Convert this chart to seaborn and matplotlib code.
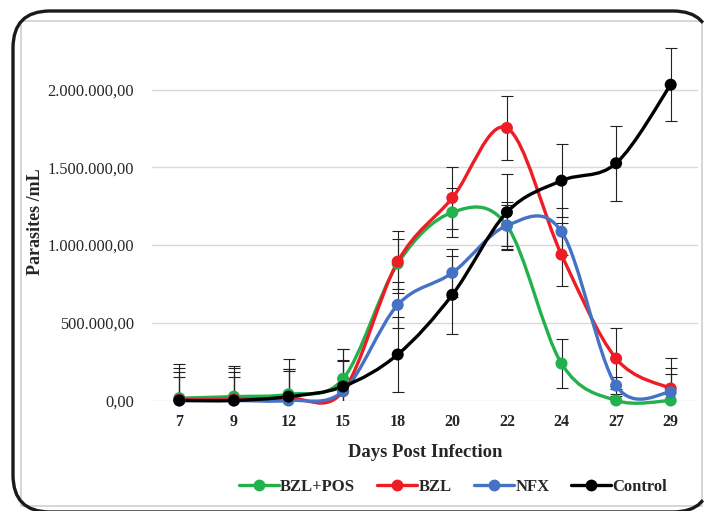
import numpy as np
import pandas as pd
import matplotlib
matplotlib.use("Agg")
import matplotlib.pyplot as plt
import seaborn as sns
from matplotlib.path import Path
from matplotlib.patches import PathPatch, FancyBboxPatch, Rectangle
from matplotlib.lines import Line2D
from matplotlib.ticker import FuncFormatter
from matplotlib.transforms import IdentityTransform

# ---------------------------------------------------------
# Data
# ---------------------------------------------------------
days = ["7", "9", "12", "15", "18", "20", "22", "24", "27", "29"]
series_names = ["BZL+POS", "BZL", "NFX", "Control"]
colors = ["#22b14c", "#ee1c24", "#4472c4", "#000000"]

bzl_pos = [15000, 25000, 40000, 140000, 880000, 1210000, 1125000, 238000, 0, 0]
bzl = [5000, 8000, 15000, 60000, 893000, 1303000, 1753000, 938000, 270000, 77000]
nfx = [0, 0, 0, 60000, 615000, 821000, 1125000, 1086000, 96000, 53000]
control = [0, 0, 25000, 90000, 296000, 680000, 1211000, 1414000, 1526000, 2031000]

bzl_pos_err = [220000, 200000, 150000, 190000, 160000, 157000, 150000, 155000, 30000, 171000]
bzl_err = [203000, 200000, 185000, 200000, 200000, 200000, 208000, 203000, 197000, 195000]
nfx_err = [182000, 182000, 200000, 197000, 146000, 155000, 130000, 150000, 55000, 155000]
control_err = [150000, 150000, 240000, 240000, 243000, 250000, 245000, 236000, 240000, 235000]

values = [bzl_pos, bzl, nfx, control]
errors = [bzl_pos_err, bzl_err, nfx_err, control_err]

sns.set_theme(style="white")
plt.rcParams["font.family"] = ["Liberation Serif", "DejaVu Serif"]

rows = []
for name, vals in zip(series_names, values):
    for i, v in enumerate(vals):
        rows.append({"pos": i, "day": days[i], "series": name, "value": v})
df = pd.DataFrame(rows)


def smooth_path(xs, ys):
    # Catmull-Rom style Bezier through the points (like a smoothed line)
    pts = np.column_stack([xs, ys]).astype(float)
    n = len(pts)
    verts = [pts[0]]
    codes = [Path.MOVETO]
    for i in range(n - 1):
        p0 = pts[i - 1] if i > 0 else pts[i]
        p1 = pts[i]
        p2 = pts[i + 1]
        p3 = pts[i + 2] if i + 2 < n else pts[i + 1]
        c1 = p1 + (p2 - p0) / 6.0
        c2 = p2 - (p3 - p1) / 6.0
        verts += [c1, c2, p2]
        codes += [Path.CURVE4] * 3
    return Path(verts, codes)


fig = plt.figure(figsize=(7.05, 5.11), dpi=100)
W, H = 705, 511
ax = fig.add_axes([152 / W, (H - 400.5) / H, (698 - 152) / W, (400.5 - 30) / H])

x = np.arange(len(days))
for name, vals, errs, col in zip(series_names, values, errors, colors):
    ax.errorbar(x, vals, yerr=errs, fmt="none", ecolor="#222222", elinewidth=0.8,
                capsize=4.5, capthick=0.8, zorder=2)
    patch = PathPatch(smooth_path(x, vals), facecolor="none", edgecolor=col,
                      lw=2.4, zorder=3, clip_on=False, capstyle="round")
    ax.add_patch(patch)

sns.scatterplot(data=df, x="pos", y="value", hue="series", palette=colors,
                hue_order=series_names, s=75, edgecolor="none", legend=False,
                ax=ax, zorder=4, clip_on=False)

ax.set_xlim(-0.5, len(days) - 0.5)
ax.set_ylim(0, 2383000)
ax.set_xticks(x)
ax.set_xticklabels(days, fontweight="bold", fontsize=11.5)
ax.set_yticks([0, 500000, 1000000, 1500000, 2000000])
ax.yaxis.set_major_formatter(FuncFormatter(
    lambda v, p: f"{v:,.2f}".replace(",", "X").replace(".", ",").replace("X", ".")))
ax.tick_params(axis="y", labelsize=11.8, pad=13, length=0)
ax.tick_params(axis="x", length=0, pad=10)
ax.grid(axis="y", color="#d9d9d9", lw=1)
ax.grid(axis="x", visible=False)
for s in ax.spines.values():
    s.set_visible(False)

ax.set_xlabel("Days Post Infection", fontweight="bold", fontsize=13.4, labelpad=10)
ax.set_ylabel("")
fig.text(35 / W, 1 - 222 / H, "Parasites /mL", rotation=90, fontweight="bold",
         fontsize=13, ha="center", va="center")

handles = [Line2D([0], [0], color=c, lw=2.4, marker="o", markersize=8.5,
                  markeredgewidth=0) for c in colors]
fig.legend(handles, series_names, loc="center", bbox_to_anchor=(453 / W, 24 / H),
           ncol=4, frameon=False, handlelength=2.4, handletextpad=0.1,
           columnspacing=1.3, prop={"weight": "bold", "size": 12})

# chart frame: thin grey inner border
fig.patches.append(Rectangle((21, 5), 681, 485, transform=IdentityTransform(),
                             fill=False, edgecolor="#cfcfcf", lw=1.2))

# rounded black outer border, partly running off the picture: draw only the
# visible runs as open polylines
box = FancyBboxPatch((13, -1), 697, 501, boxstyle="round,pad=0,rounding_size=37")
outline = np.concatenate(box.get_path().to_polygons(closed_only=False))
inside = (outline[:, 0] <= W + 0.5) & (outline[:, 1] >= -1.5)
if not inside.all():
    start = np.argmin(inside)
    outline = np.roll(outline, -start, axis=0)
    inside = np.roll(inside, -start)
run = []
for pt, ok in zip(outline, inside):
    if ok:
        run.append(pt)
    elif run:
        r = np.array(run)
        fig.lines.append(Line2D(r[:, 0], r[:, 1], transform=IdentityTransform(),
                                color="#1a1a1a", lw=2.4, solid_capstyle="butt"))
        run = []
if run:
    r = np.array(run)
    fig.lines.append(Line2D(r[:, 0], r[:, 1], transform=IdentityTransform(),
                            color="#1a1a1a", lw=2.4, solid_capstyle="butt"))

fig.savefig("out.png", dpi=100)
